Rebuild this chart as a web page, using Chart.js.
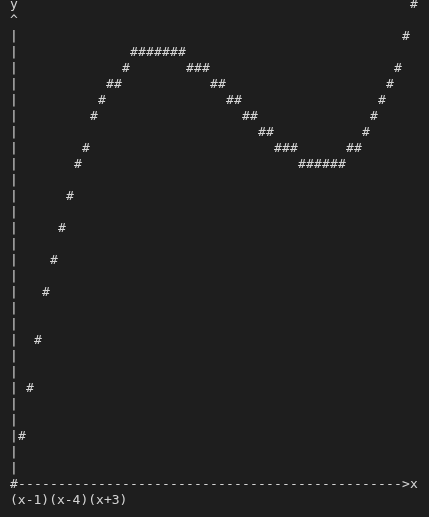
<!DOCTYPE html>
<html><head><meta charset="utf-8">
<script src="https://cdn.jsdelivr.net/npm/chart.js@4"></script>
<style>
html,body{margin:0;padding:0;background:#1e1e1e;}
#wrap{position:relative;width:429px;height:517px;}
#cap{position:absolute;left:10px;top:492px;font:13px "DejaVu Sans Mono",monospace;color:#d4d4d4;white-space:pre;}
</style></head><body>
<div id="wrap"><canvas id="c" width="429" height="517"></canvas><div id="cap">(x-1)(x-4)(x+3)</div></div>
<script>
// curve marks: [column, row]
const curveCols = [50,49,15,16,17,18,19,20,21,14,22,23,24,48,12,13,25,26,47,11,27,28,46,10,29,30,45,31,32,44,9,33,34,35,42,43,8,36,37,38,39,40,41,7,6,5,4,3,2,1];
const curveRows = [0,2,3,3,3,3,3,3,3,4,4,4,4,4,5,5,5,5,5,6,6,6,6,7,7,7,7,8,8,8,9,9,9,9,9,9,10,10,10,10,10,10,10,12,14,16,18,21,24,27];
const axisRow = 30;
const xAxisEnd = 48;
const yAxisTop = 2;
const yLabel = "y", xLabel = "x";

const curve = curveCols.map((c,i)=>({x:c,y:curveRows[i],ch:"#"}));
const axis = [{x:0,y:0,ch:yLabel},{x:0,y:1,ch:"^"}];
for(let r=yAxisTop;r<axisRow;r++) axis.push({x:0,y:r,ch:"|"});
axis.push({x:0,y:axisRow,ch:"#"});
for(let c=1;c<=xAxisEnd;c++) axis.push({x:c,y:axisRow,ch:"-"});
axis.push({x:xAxisEnd+1,y:axisRow,ch:">"},{x:xAxisEnd+2,y:axisRow,ch:xLabel});

const glyphs={id:'glyphs',afterDatasetsDraw(chart){
  const ctx=chart.ctx;ctx.save();
  ctx.font='13px "DejaVu Sans Mono", monospace';ctx.fillStyle='#d4d4d4';
  ctx.textAlign='center';ctx.textBaseline='middle';
  chart.data.datasets.forEach((ds,di)=>{
    chart.getDatasetMeta(di).data.forEach((p,i)=>ctx.fillText(ds.data[i].ch,p.x,p.y));
  });
  ctx.restore();
}};
new Chart(document.getElementById('c'),{
  type:'scatter',
  data:{datasets:[{data:axis,pointRadius:0},{data:curve,pointRadius:0}]},
  options:{responsive:false,animation:false,
    layout:{padding:{left:6,right:7,top:5,bottom:16}},
    plugins:{legend:{display:false},tooltip:{enabled:false}},
    scales:{x:{display:false,min:-1,max:51},y:{display:false,reverse:true,min:0,max:31}}},
  plugins:[glyphs]
});
</script></body></html>
